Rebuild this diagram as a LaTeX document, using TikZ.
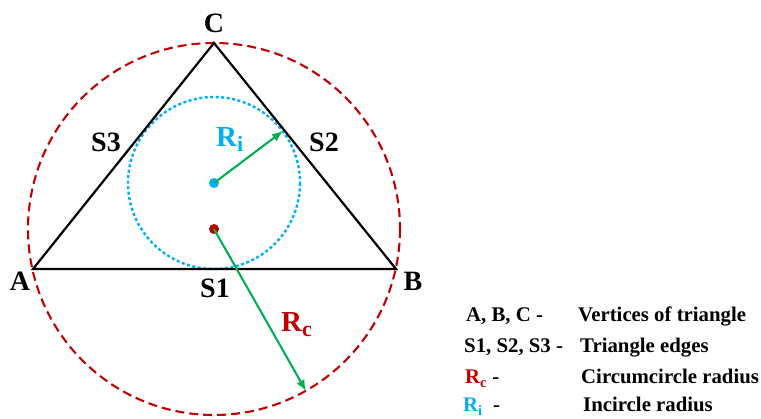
\documentclass[tikz,border=0pt]{standalone}
\usepackage{fontspec}
\setmainfont{Liberation Serif}
\usetikzlibrary{arrows.meta,positioning}
\definecolor{circred}{RGB}{192, 0, 0}
\definecolor{incyan}{RGB}{0, 176, 240}
\definecolor{radgreen}{RGB}{0, 176, 80}
\tikzset{
  vlabel/.style={font=\bfseries\fontsize{28}{28}\selectfont, inner sep=0pt},
  rlabel/.style={font=\bfseries\fontsize{29}{29}\selectfont, inner sep=0pt, anchor=base west},
  legkey/.style={font=\bfseries\fontsize{20.8}{20.8}\selectfont, inner sep=0pt, anchor=base west},
  circum/.style={draw=circred, line width=2.1pt, dash pattern=on 9pt off 5pt},
  incirc/.style={draw=incyan, line width=2.4pt, dash pattern=on 3pt off 2.5pt},
  radarrow/.style={draw=radgreen, line width=2.1pt, -{Latex[length=11pt, width=9pt]}},
  centerdot/.style={circle, inner sep=0pt, minimum size=10pt}
}

\begin{document}
\begin{tikzpicture}[x=1pt, y=-1pt]
  \useasboundingbox (0,0) rectangle (761,419);
  % vertices and touching points
  \coordinate (A) at (33,269);
  \coordinate (B) at (396,269);
  \coordinate (C) at (214,43);
  \coordinate (tanS2) at (283,131);
  \coordinate (onCirc) at (306,391);

  \draw [circum] (214,229) circle (186);
  \draw [incirc] (214,183) circle (86);
  \draw [line width=2.2pt, line join=miter] (A) -- (B) -- (C) -- cycle;

  \node [centerdot, fill=incyan] (incenter) at (214,183) {};
  \node [centerdot, fill=circred] (circcenter) at (214,229) {};
  \draw [radarrow] (incenter.center) -- (tanS2);
  \draw [radarrow] (circcenter.center) -- (onCirc);

  \node [vlabel] (labC) at (214,23) {C};
  \node [vlabel] (labA) at (20,281) {A};
  \node [vlabel] (labB) at (413,281) {B};
  \node [vlabel] (labS3) at (106,142) {S3};
  \node [vlabel] (labS2) at (324,142) {S2};
  \node [vlabel] (labS1) at (215,288) {S1};
  \node [rlabel, text=incyan] (labRi) at (216,147) {R{\fontsize{22}{22}\selectfont\raisebox{-5pt}{i}}};
  \node [rlabel, text=circred] (labRc) at (281,332) {R{\fontsize{22}{22}\selectfont\raisebox{-5pt}{c}}};

  % legend
  \node [legkey] (keyABC) at (466,322) {A, B, C -};
  \node [legkey] (keyS) at (464,353) {S1, S2, S3 -};
  \node [legkey] (keyRc) at (465,384) {\textcolor{circred}{R\textsubscript{c}} -};
  \node [legkey] (keyRi) at (463,412) {\textcolor{incyan}{R\textsubscript{i}}\ \ -};
  \node [legkey] (txtABC) at (578,322) {Vertices of triangle};
  \node [legkey] (txtS) at (580,353) {Triangle edges};
  \node [legkey] (txtRc) at (581,384) {Circumcircle radius};
  \node [legkey] (txtRi) at (583,412) {Incircle radius};
\end{tikzpicture}
\end{document}
